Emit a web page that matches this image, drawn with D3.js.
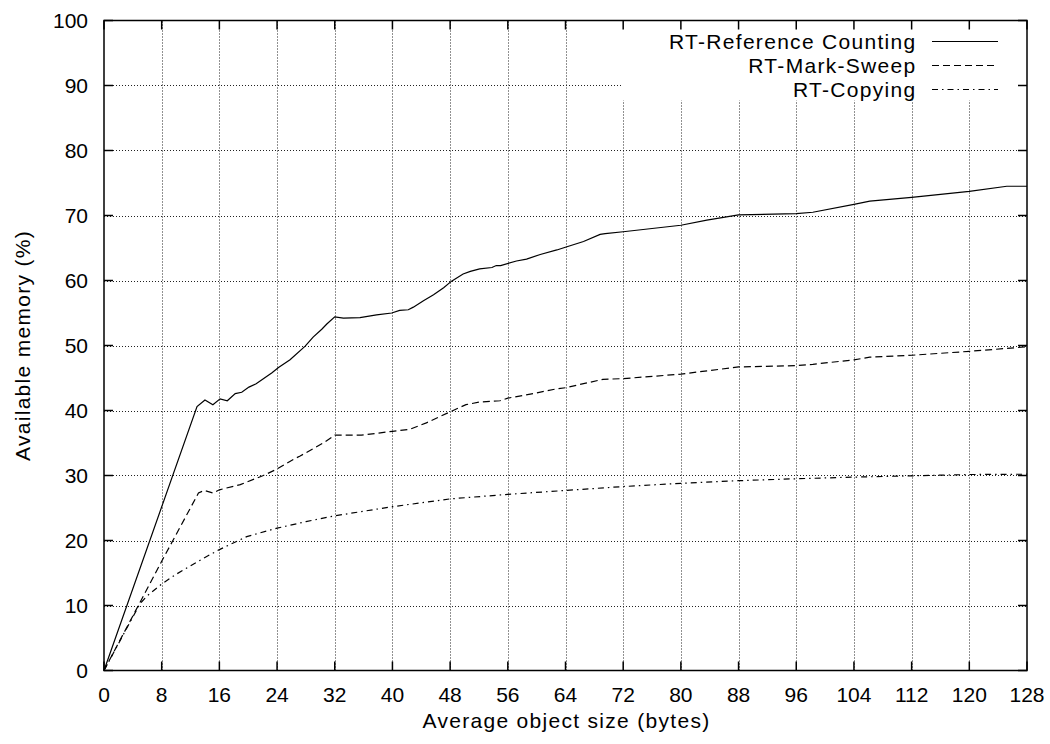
<!DOCTYPE html>
<html>
<head>
<meta charset="utf-8">
<script src="https://cdn.jsdelivr.net/npm/d3@7"></script>
<style>
  html, body { margin: 0; padding: 0; background: #fff; }
  svg { display: block; }
  text { font-family: "Liberation Sans", Arial, Helvetica, sans-serif; fill: #000; font-size: 21px; letter-spacing: 1.3px; }
  text.num { letter-spacing: 0px; }
</style>
</head>
<body>
<svg id="chart" width="1050" height="744"></svg>
<script>
// ---- Data ----
const xTicks = [0, 8, 16, 24, 32, 40, 48, 56, 64, 72, 80, 88, 96, 104, 112, 120, 128];
const yTicks = [0, 10, 20, 30, 40, 50, 60, 70, 80, 90, 100];

const seriesNames = ["RT-Reference Counting", "RT-Mark-Sweep", "RT-Copying"];

const refCounting = [
  [0,0],[12.9,40.6],[14,41.6],[15.1,40.9],[16.1,41.8],[17.1,41.5],[18.2,42.6],[19.1,42.8],
  [20.1,43.6],[21.1,44.1],[22.1,44.9],[23.3,45.8],[24.2,46.6],[25.8,47.8],[27.9,49.9],
  [29.0,51.3],[30.2,52.5],[30.9,53.3],[32.0,54.4],[33.2,54.2],[35.5,54.3],[37.8,54.7],
  [39.9,55.0],[41.0,55.4],[42.2,55.5],[42.9,55.9],[44.3,56.9],[45.7,57.8],[47.1,58.9],
  [48.2,59.9],[49.8,61.0],[50.8,61.4],[52.1,61.8],[53.8,62.0],[54.4,62.3],[55,62.3],
  [57.2,63.0],[58.6,63.3],[60.5,64.0],[62.8,64.7],[64.2,65.2],[66.5,66.0],[68.8,67.1],
  [69.5,67.2],[72,67.5],[80,68.5],[83.6,69.3],[88,70.1],[96,70.3],[98.3,70.5],[104,71.7],
  [106.2,72.2],[112,72.8],[120,73.7],[125.2,74.5],[128,74.5]
];

const markSweep = [
  [0,0],[8,16.8],[13.1,27.3],[13.9,27.7],[15.1,27.3],[16,27.8],[18.9,28.6],[22.1,30.0],
  [24,31.0],[26.3,32.5],[27.2,33.0],[30.4,35.0],[32,36.2],[35.7,36.2],[40,36.8],[42.4,37.1],
  [44.7,38.1],[48,39.8],[50.2,40.9],[52.1,41.3],[54.9,41.5],[56,41.9],[59.5,42.6],[62.6,43.3],
  [64,43.5],[69.2,44.8],[72,44.9],[80,45.6],[88,46.7],[96,46.9],[98.3,47.1],[104,47.8],
  [106.2,48.2],[112,48.5],[120,49.1],[128,49.8]
];

const copying = [
  [0,0],[5,10.3],[6,11.5],[8,13.3],[10,14.8],[12,16.1],[14,17.4],[16,18.6],[19.8,20.6],
  [24,21.9],[28,22.9],[32,23.8],[40,25.2],[44,25.8],[48,26.4],[56,27.1],[64,27.7],[72,28.3],
  [80,28.8],[88,29.2],[96,29.5],[104,29.75],[112,29.95],[120,30.15],[128,30.2]
];

// ---- Layout ----
const W = 1050, H = 744;
const margin = { left: 104, right: 23, top: 20.5, bottom: 73.5 };
const svg = d3.select("#chart");

const x = d3.scaleLinear().domain([0, 128]).range([margin.left, W - margin.right]);
const y = d3.scaleLinear().domain([0, 100]).range([H - margin.bottom, margin.top]);

const x0 = x.range()[0], x1 = x.range()[1];
const y0 = y.range()[0], y1 = y.range()[1];

// ---- Grid (dotted) ----
const grid = svg.append("g").attr("stroke", "#222").attr("stroke-width", 1)
  .attr("stroke-dasharray", "1,2").attr("fill", "none");
grid.selectAll("line.v").data(xTicks.filter(d => d > 0 && d < 128)).enter().append("line")
  .attr("x1", d => Math.round(x(d)) + 0.5).attr("x2", d => Math.round(x(d)) + 0.5)
  .attr("y1", y0).attr("y2", y1);
grid.selectAll("line.h").data(yTicks.filter(d => d > 0 && d < 100)).enter().append("line")
  .attr("y1", d => Math.round(y(d)) + 0.5).attr("y2", d => Math.round(y(d)) + 0.5)
  .attr("x1", x0).attr("x2", x1);

// ---- Legend background (opaque key) ----
svg.append("rect")
  .attr("x", x(72) - 1).attr("y", y1)
  .attr("width", x1 - x(72) + 1).attr("height", 80)
  .attr("fill", "#fff");

// ---- Lines ----
const line = d3.line().x(d => x(d[0])).y(d => y(d[1]));
const styles = [
  { data: refCounting, dash: null },
  { data: markSweep, dash: "7,4" },
  { data: copying, dash: "6,4,1.5,4" }
];
styles.forEach(s => {
  svg.append("path").datum(s.data)
    .attr("d", line)
    .attr("fill", "none")
    .attr("stroke", "#000")
    .attr("stroke-width", 1.2)
    .attr("stroke-dasharray", s.dash);
});

// ---- Legend ----
const legend = svg.append("g");
styles.forEach((s, i) => {
  const by = 49 + i * 24;
  legend.append("text")
    .attr("x", 916.5).attr("y", by)
    .attr("text-anchor", "end")
    .text(seriesNames[i]);
  legend.append("line")
    .attr("x1", 932).attr("x2", 998)
    .attr("y1", by - 7.5).attr("y2", by - 7.5)
    .attr("stroke", "#000").attr("stroke-width", 1.2)
    .attr("stroke-dasharray", s.dash);
});

// ---- Border and ticks ----
const tickLen = 9;
const axisG = svg.append("g").attr("stroke", "#000").attr("stroke-width", 1.5);
axisG.append("rect")
  .attr("x", x0).attr("y", y1).attr("width", x1 - x0).attr("height", y0 - y1)
  .attr("fill", "none");
xTicks.forEach(t => {
  axisG.append("line").attr("x1", x(t)).attr("x2", x(t)).attr("y1", y0).attr("y2", y0 - tickLen);
  axisG.append("line").attr("x1", x(t)).attr("x2", x(t)).attr("y1", y1).attr("y2", y1 + tickLen);
});
yTicks.forEach(t => {
  axisG.append("line").attr("y1", y(t)).attr("y2", y(t)).attr("x1", x0).attr("x2", x0 + tickLen);
  axisG.append("line").attr("y1", y(t)).attr("y2", y(t)).attr("x1", x1).attr("x2", x1 - tickLen);
});

// ---- Tick labels ----
svg.append("g").selectAll("text").data(xTicks).enter().append("text")
  .attr("class", "num")
  .attr("x", d => x(d)).attr("y", 702)
  .attr("text-anchor", "middle")
  .text(d => d);
svg.append("g").selectAll("text").data(yTicks).enter().append("text")
  .attr("class", "num")
  .attr("x", 88).attr("y", d => y(d) + 7.5)
  .attr("text-anchor", "end")
  .text(d => d);

// ---- Axis titles ----
svg.append("text")
  .attr("x", (x0 + x1) / 2 + 1).attr("y", 728)
  .attr("text-anchor", "middle")
  .text("Average object size (bytes)");
svg.append("text")
  .attr("transform", `translate(30, ${(y0 + y1) / 2}) rotate(-90)`)
  .attr("text-anchor", "middle")
  .text("Available memory (%)");
</script>
</body>
</html>
